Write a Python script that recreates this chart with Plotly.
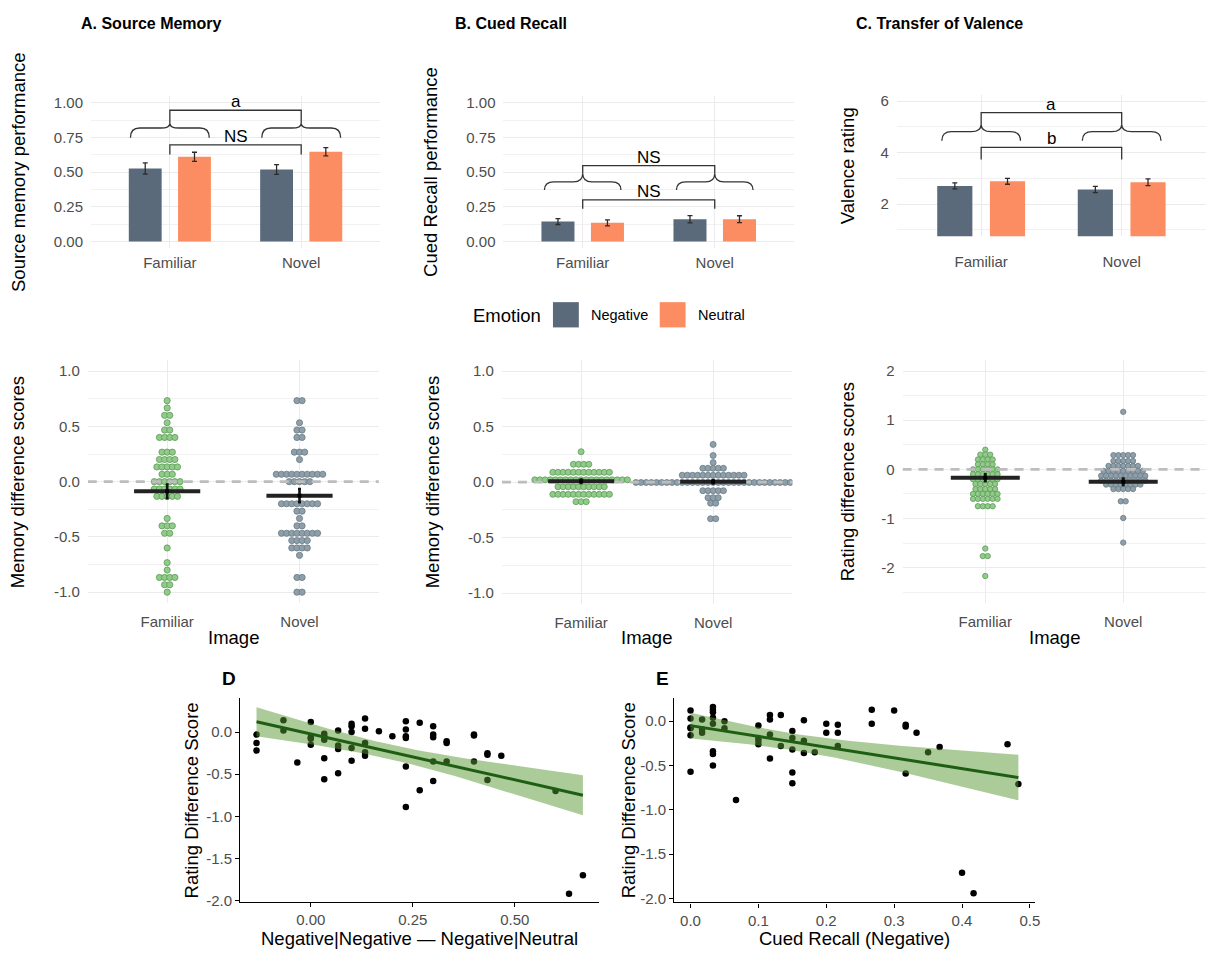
import numpy as np
import plotly.graph_objects as go

W, H = 1212, 958
FONT = "Liberation Sans, Arial, Helvetica, sans-serif"

# ---------------- data ----------------
categories = ["Familiar", "Novel"]
emotions = ["Negative", "Neutral"]

src_neg = [0.526, 0.519]; src_neg_se = [0.040, 0.035]
src_neu = [0.610, 0.647]; src_neu_se = [0.033, 0.030]
cue_neg = [0.143, 0.160]; cue_neg_se = [0.021, 0.026]
cue_neu = [0.134, 0.160]; cue_neu_se = [0.022, 0.025]
val_neg = [2.705, 2.564]; val_neg_se = [0.115, 0.120]
val_neu = [2.885, 2.846]; val_neu_se = [0.115, 0.130]

# dot-plot bins (bin value, number of participants in bin)
memA_fam_bins = [0.733, 0.667, 0.6, 0.533, 0.467, 0.4, 0.267, 0.2, 0.133, 0.067, 0.0, -0.067, -0.133,
                 -0.333, -0.4, -0.467, -0.6, -0.733, -0.8, -0.867, -0.933, -1.0]
memA_fam_counts = [1, 1, 2, 1, 2, 4, 3, 4, 5, 3, 6, 6, 5, 1, 3, 2, 1, 1, 1, 4, 2, 1]
memA_nov_bins = [0.733, 0.533, 0.467, 0.4, 0.267, 0.2, 0.067, 0.0, -0.2, -0.267, -0.333, -0.4,
                 -0.467, -0.533, -0.6, -0.667, -0.867, -1.0]
memA_nov_counts = [2, 1, 2, 2, 3, 1, 10, 5, 8, 2, 1, 2, 8, 4, 4, 1, 2, 2]
memA_mean = [-0.088, -0.127]; memA_se = [0.062, 0.060]

memB_fam_bins = [0.274, 0.161, 0.089, 0.021, -0.042, -0.110, -0.176]
memB_fam_counts = [1, 4, 12, 19, 10, 12, 3]
memB_nov_bins = [0.34, 0.24, 0.176, 0.125, 0.0625, -0.003, -0.077, -0.14, -0.19, -0.33]
memB_nov_counts = [1, 1, 1, 5, 13, 31, 5, 3, 2, 2]
memB_mean = [0.008, 0.003]; memB_se = [0.015, 0.015]

rate_fam_bins = [0.4, 0.3, 0.2, 0.1, 0.0, -0.1, -0.2, -0.3, -0.4, -0.5, -0.6, -0.75, -1.61, -1.765, -2.17]
rate_fam_counts = [1, 3, 4, 4, 6, 6, 6, 5, 5, 6, 6, 4, 1, 2, 1]
rate_nov_bins = [1.17, 0.29, 0.17, 0.07, -0.03, -0.13, -0.23, -0.31, -0.4, -0.65, -0.99, -1.49]
rate_nov_counts = [1, 5, 5, 7, 9, 10, 10, 8, 5, 2, 1, 1]
rate_mean = [-0.170, -0.250]; rate_se = [0.070, 0.065]

# D: Negative|Negative - Negative|Neutral vs rating difference
d_x = [-0.133, -0.133, -0.133, -0.067, -0.067, -0.033, 0, 0, 0, 0,
       0.033, 0.033, 0.033, 0.033, 0.033, 0.067, 0.067, 0.067, 0.067,
       0.1, 0.1, 0.1, 0.1, 0.1, 0.133, 0.133, 0.133, 0.133, 0.133, 0.167, 0.2,
       0.233, 0.233, 0.233, 0.233, 0.233, 0.233, 0.267, 0.267,
       0.3, 0.3, 0.3, 0.3, 0.3, 0.333, 0.333, 0.333, 0.4, 0.4, 0.4,
       0.433, 0.433, 0.433, 0.467, 0.6, 0.633, 0.667]
d_y = [-0.03, -0.13, -0.22, 0.14, 0.02, -0.36, 0.12, -0.06, -0.08, -0.15,
       -0.02, -0.05, -0.09, -0.31, -0.56, 0.02, -0.16, -0.20, -0.49,
       0.10, 0.07, 0.0, -0.19, -0.34, 0.16, 0.04, -0.13, -0.24, -0.28, 0.01, -0.05,
       0.13, 0.03, -0.05, -0.07, -0.41, -0.89, 0.11, -0.69,
       0.07, -0.03, -0.06, -0.35, -0.58, -0.11, -0.13, -0.35, -0.03, -0.04, -0.35,
       -0.25, -0.27, -0.57, -0.28, -0.70, -1.92, -1.70]

# E: Cued recall (negative) vs rating difference
e_x = [0, 0, 0, 0, 0, 0, 0.017, 0.017, 0.017,
       0.033, 0.033, 0.033, 0.033, 0.033, 0.033, 0.033, 0.033, 0.05, 0.05, 0.067,
       0.1, 0.1, 0.1, 0.1, 0.117, 0.117, 0.117, 0.117, 0.133, 0.133,
       0.15, 0.15, 0.15, 0.15, 0.15, 0.167, 0.167, 0.167, 0.183, 0.2, 0.2,
       0.217, 0.217, 0.217, 0.267, 0.267, 0.3, 0.317, 0.317, 0.317, 0.333, 0.35, 0.367,
       0.4, 0.417, 0.467, 0.483]
e_y = [0.12, 0.03, -0.07, -0.08, -0.16, -0.57, 0.02, -0.09, -0.13,
       0.16, 0.13, 0.10, 0.04, -0.03, -0.34, -0.37, -0.50, 0.0, -0.08, -0.89,
       -0.05, -0.19, -0.22, -0.26, 0.07, 0.02, -0.15, -0.42, 0.07, -0.28,
       -0.11, -0.19, -0.32, -0.58, -0.70, 0.01, -0.22, -0.36, -0.35, -0.03, -0.13,
       -0.04, -0.13, -0.28, 0.13, -0.03, 0.12, -0.04, -0.06, -0.59, -0.13, -0.35, -0.29,
       -1.71, -1.94, -0.26, -0.71]

# tick labels
bar_ticks = [0, 0.25, 0.5, 0.75, 1.0]
bar_ticktext = ["0.00", "0.25", "0.50", "0.75", "1.00"]
val_ticks = [2, 4, 6]
diff_ticks = [-1.0, -0.5, 0.0, 0.5, 1.0]
diff_ticktext = ["-1.0", "-0.5", "0.0", "0.5", "1.0"]
rate_ticks = [-2, -1, 0, 1, 2]
rate_ticktext = ["-2", "-1", "0", "1", "2"]
sc_yticks = [0.0, -0.5, -1.0, -1.5, -2.0]
sc_yticktext = ["0.0", "-0.5", "-1.0", "-1.5", "-2.0"]
d_xticks = [0.0, 0.25, 0.5]
d_xticktext = ["0.00", "0.25", "0.50"]
e_xticks = [0.0, 0.1, 0.2, 0.3, 0.4, 0.5]
e_xticktext = ["0.0", "0.1", "0.2", "0.3", "0.4", "0.5"]

# ---------------- style ----------------
NEG_COL = "#5A6A7B"
NEU_COL = "#FC8D62"
GREEN_FILL, GREEN_LINE = "#90CB89", "#5E9A58"
GREY_FILL, GREY_LINE = "#8E9FA9", "#697B85"
GRID = "#EBEBEB"
TICKFONT = dict(family=FONT, size=15, color="#4D4D4D")
CAT_RANGE = [-0.6, 1.6]
cat_pos = list(range(len(categories)))


def dom_x(l, r):
    return [l / W, r / W]


def dom_y(t, b):
    return [1 - b / H, 1 - t / H]


def cat_xaxis(l, r, anchor, ticklen=5):
    return dict(domain=dom_x(l, r), range=CAT_RANGE, tickvals=cat_pos, ticktext=categories,
                showgrid=True, gridcolor=GRID, gridwidth=1.1, zeroline=False, showline=False,
                ticks="outside", ticklen=ticklen, tickcolor="rgba(0,0,0,0)", tickfont=TICKFONT,
                anchor=anchor, fixedrange=True)


def grid_yaxis(t, b, rng, tickvals, ticktext, minor_vals, anchor):
    return dict(domain=dom_y(t, b), range=rng, tickvals=tickvals, ticktext=ticktext,
                showgrid=True, gridcolor=GRID, gridwidth=1.1, zeroline=False, showline=False,
                ticks="outside", ticklen=4, tickcolor="rgba(0,0,0,0)", tickfont=TICKFONT,
                anchor=anchor, fixedrange=True,
                minor=dict(tickvals=minor_vals, showgrid=True, gridcolor="#F1F1F1",
                           gridwidth=0.7, ticks=""))


def line_axis(dom, rng, tickvals, ticktext, anchor):
    return dict(domain=dom, range=rng, tickvals=tickvals, ticktext=ticktext, showgrid=False,
                zeroline=False, showline=True, linecolor="black", linewidth=1.3, ticks="outside",
                ticklen=4, tickcolor="black", tickwidth=1, tickfont=TICKFONT, anchor=anchor,
                fixedrange=True)


def dot_positions(bins, counts, cat_index, dx):
    xs, ys = [], []
    for v, n in zip(bins, counts):
        for i in range(n):
            xs.append(cat_index + (i - (n - 1) / 2) * dx)
            ys.append(v)
    return xs, ys


def fit_band(x, y, n_grid=80):
    x = np.asarray(x, float)
    y = np.asarray(y, float)
    b1, b0 = np.polyfit(x, y, 1)
    xs = np.linspace(x.min(), x.max(), n_grid)
    yhat = b0 + b1 * xs
    resid = y - (b0 + b1 * x)
    n = len(x)
    s = np.sqrt(np.sum(resid ** 2) / (n - 2))
    sxx = np.sum((x - x.mean()) ** 2)
    se = s * np.sqrt(1 / n + (xs - x.mean()) ** 2 / sxx)
    t = 2.004
    return xs, yhat, yhat - t * se, yhat + t * se


def brace_path(xc, half, y_end, y_flat, y_tip, r):
    x0, x1 = xc - half, xc + half
    return (f"M {x0},{y_end} Q {x0},{y_flat} {x0 + r},{y_flat} L {xc - r},{y_flat} "
            f"Q {xc},{y_flat} {xc},{y_tip} Q {xc},{y_flat} {xc + r},{y_flat} "
            f"L {x1 - r},{y_flat} Q {x1},{y_flat} {x1},{y_end}")


def bracket_path(xa, xb, y_low, y_high):
    return f"M {xa},{y_low} L {xa},{y_high} L {xb},{y_high} L {xb},{y_low}"


fig = go.Figure()

# ---------------- top bar panels ----------------
bar_sets = [
    ("x", "y", src_neg, src_neg_se, src_neu, src_neu_se),
    ("x2", "y2", cue_neg, cue_neg_se, cue_neu, cue_neu_se),
    ("x3", "y3", val_neg, val_neg_se, val_neu, val_neu_se),
]
for xa, ya, neg, neg_se, neu, neu_se in bar_sets:
    for name, vals, ses, col in [(emotions[0], neg, neg_se, NEG_COL), (emotions[1], neu, neu_se, NEU_COL)]:
        fig.add_trace(go.Bar(x=cat_pos, y=vals, name=name, marker=dict(color=col, line=dict(width=0)),
                             offsetgroup=name, xaxis=xa, yaxis=ya, showlegend=False,
                             error_y=dict(type="data", array=ses, color="#2B2B2B", thickness=1.3, width=2.5)))

# ---------------- dot plot panels ----------------
dot_sets = [
    ("x4", "y4", memA_fam_bins, memA_fam_counts, memA_nov_bins, memA_nov_counts, memA_mean, memA_se, 0.039, 6.2),
    ("x5", "y5", memB_fam_bins, memB_fam_counts, memB_nov_bins, memB_nov_counts, memB_mean, memB_se, 0.039, 6.0),
    ("x6", "y6", rate_fam_bins, rate_fam_counts, rate_nov_bins, rate_nov_counts, rate_mean, rate_se, 0.0355, 5.4),
]
for xa, ya, fb, fc, nb, nc, mean, se, dx, msize in dot_sets:
    fx, fy = dot_positions(fb, fc, cat_pos[0], dx)
    nx, ny = dot_positions(nb, nc, cat_pos[1], dx)
    fig.add_trace(go.Scatter(x=fx, y=fy, mode="markers", xaxis=xa, yaxis=ya, showlegend=False,
                             marker=dict(size=msize, color=GREEN_FILL, line=dict(color=GREEN_LINE, width=0.8))))
    fig.add_trace(go.Scatter(x=nx, y=ny, mode="markers", xaxis=xa, yaxis=ya, showlegend=False,
                             marker=dict(size=msize, color=GREY_FILL, line=dict(color=GREY_LINE, width=0.8))))
    fig.add_trace(go.Scatter(x=CAT_RANGE, y=[0, 0], mode="lines", xaxis=xa, yaxis=ya, showlegend=False,
                             line=dict(color="#BDBDBD", width=2.6, dash="9px,7px")))
    fig.add_trace(go.Scatter(x=cat_pos, y=mean, mode="markers", xaxis=xa, yaxis=ya, showlegend=False,
                             marker=dict(size=4, color="black", symbol="square"),
                             error_x=dict(type="constant", value=0.25, color="#222222", thickness=4, width=0),
                             error_y=dict(type="data", array=se, color="#111111", thickness=2.6, width=1.5)))

# ---------------- scatter panels ----------------
for xa, ya, xs_, ys_ in [("x7", "y7", d_x, d_y), ("x8", "y8", e_x, e_y)]:
    fig.add_trace(go.Scatter(x=xs_, y=ys_, mode="markers", xaxis=xa, yaxis=ya, showlegend=False,
                             marker=dict(size=6.5, color="black")))
    gx, gy, lo, hi = fit_band(xs_, ys_)
    fig.add_trace(go.Scatter(x=list(gx) + list(gx[::-1]), y=list(hi) + list(lo[::-1]), mode="lines",
                             fill="toself", fillcolor="rgba(88,152,52,0.5)", line=dict(width=0),
                             xaxis=xa, yaxis=ya, showlegend=False, hoverinfo="skip"))
    fig.add_trace(go.Scatter(x=gx, y=gy, mode="lines", xaxis=xa, yaxis=ya, showlegend=False,
                             line=dict(color="#1D5E12", width=3)))

# ---------------- axes ----------------
layout = dict(
    xaxis=cat_xaxis(91.5, 381.9, "y", ticklen=1),
    yaxis=grid_yaxis(94.7, 248.7, [-0.05, 1.05], bar_ticks, bar_ticktext, [0.125, 0.375, 0.625, 0.875], "x"),
    xaxis2=cat_xaxis(506.0, 797.9, "y2", ticklen=1),
    yaxis2=grid_yaxis(94.7, 248.7, [-0.05, 1.05], bar_ticks, bar_ticktext, [0.125, 0.375, 0.625, 0.875], "x2"),
    xaxis3=cat_xaxis(901.3, 1212.0, "y3", ticklen=12),
    yaxis3=grid_yaxis(93.5, 236.5, [0.75, 6.25], val_ticks, [str(v) for v in val_ticks], [1, 3, 5], "x3"),
    xaxis4=cat_xaxis(88.2, 380.8, "y4"),
    yaxis4=grid_yaxis(361.5, 606.9, [-1.1, 1.1], diff_ticks, diff_ticktext, [-0.75, -0.25, 0.25, 0.75], "x4"),
    xaxis5=cat_xaxis(504.4, 796.3, "y5"),
    yaxis5=grid_yaxis(361.5, 607.9, [-1.1, 1.1], diff_ticks, diff_ticktext, [-0.75, -0.25, 0.25, 0.75], "x5"),
    xaxis6=cat_xaxis(907.0, 1212.0, "y6"),
    yaxis6=grid_yaxis(361.4, 607.0, [-2.725, 2.225], rate_ticks, rate_ticktext, [-2.5, -1.5, -0.5, 0.5, 1.5], "x6"),
    xaxis7=line_axis(dom_x(241.4, 602.2), [-0.173, 0.707], d_xticks, d_xticktext, "y7"),
    yaxis7=line_axis(dom_y(703.0, 908.7), [-2.02, 0.40], sc_yticks, sc_yticktext, "x7"),
    xaxis8=line_axis(dom_x(677.6, 1039.8), [-0.024, 0.507], e_xticks, e_xticktext, "y8"),
    yaxis8=line_axis(dom_y(702.3, 909.0), [-2.045, 0.265], sc_yticks, sc_yticktext, "x8"),
)

# ---------------- annotation shapes (braces and brackets) ----------------
shapes = []
LC = dict(color="#333333", width=1.3)
brace_specs = [
    ("x", "y", 0.30, 0.748, 0.818, 0.853, 0.070, 0.626, 0.696, 0.946),
    ("x2", "y2", 0.29, 0.370, 0.430, 0.490, 0.070, 0.235, 0.300, 0.547),
    ("x3", "y3", 0.28, 4.46, 4.81, 5.10, 0.070, 3.73, 4.20, 5.55),
]
for xa, ya, half, ye, yf, yt, r, lo_leg, lo_bar, hi_bar in brace_specs:
    for c in cat_pos:
        shapes.append(dict(type="path", path=brace_path(c, half, ye, yf, yt, r), xref=xa, yref=ya,
                           line=LC, layer="above"))
    shapes.append(dict(type="path", path=bracket_path(cat_pos[0], cat_pos[1], yt, hi_bar), xref=xa, yref=ya,
                       line=LC, layer="above"))
    shapes.append(dict(type="path", path=bracket_path(cat_pos[0], cat_pos[1], lo_leg, lo_bar), xref=xa, yref=ya,
                       line=LC, layer="above"))

# legend keys
for (l, col) in [(555.7, NEG_COL), (663.0, NEU_COL)]:
    shapes.append(dict(type="rect", xref="paper", yref="paper", x0=l / W, x1=(l + 26) / W,
                       y0=1 - 328.5 / H, y1=1 - 303 / H, fillcolor=col, line=dict(width=0)))

annotations = []


def ann(text, x, y, size, color="black", angle=0, xanchor="center", bold=False):
    if bold:
        text = f"<b>{text}</b>"
    annotations.append(dict(text=text, x=x / W, y=1 - y / H, xref="paper", yref="paper", showarrow=False,
                            textangle=angle, xanchor=xanchor, yanchor="middle",
                            font=dict(family=FONT, size=size, color=color)))


# panel titles
ann("A. Source Memory", 79, 22, 16, bold=True, xanchor="left")
ann("B. Cued Recall", 455, 22, 16, bold=True, xanchor="left")
ann("C. Transfer of Valence", 858, 22, 16, bold=True, xanchor="left")
ann("D", 230, 683, 19, bold=True)
ann("E", 666, 683, 19, bold=True)

# y titles
ann("Source memory performance", 18, 171.7, 18.5, angle=-90)
ann("Cued Recall performance", 432, 171.7, 18.5, angle=-90)
ann("Valence rating", 852, 165, 18.5, angle=-90)
ann("Memory difference scores", 18, 484, 18.5, angle=-90)
ann("Memory difference scores", 435, 484, 18.5, angle=-90)
ann("Rating difference scores", 852, 484, 18.5, angle=-90)
ann("Rating Difference Score", 192, 806, 18.5, angle=-90)
ann("Rating Difference Score", 632, 806, 18.5, angle=-90)

# x titles
ann("Image", 234.5, 642, 18.5)
ann("Image", 650, 642, 18.5)
ann("Image", 1059.5, 642, 18.5)
ann("Negative|Negative — Negative|Neutral", 421.8, 945, 18.5)
ann("Cued Recall (Negative)", 858.7, 945, 18.5)

# legend text
ann("Emotion", 510, 316, 18.5)
ann(emotions[0], 592, 316, 14.5, xanchor="left")
ann(emotions[1], 699, 316, 14.5, xanchor="left")

# bracket labels
label_specs = [("x", "y", "a", 0.946, "NS", 0.696),
               ("x2", "y2", "NS", 0.547, "NS", 0.300),
               ("x3", "y3", "a", 5.55, "b", 4.20)]
for xa, ya, t_hi, y_hi, t_lo, y_lo in label_specs:
    for t, yv in [(t_hi, y_hi), (t_lo, y_lo)]:
        annotations.append(dict(text=t, x=(cat_pos[0] + cat_pos[1]) / 2, y=yv, xref=xa, yref=ya,
                                showarrow=False, xanchor="center", yanchor="bottom", yshift=-3,
                                font=dict(family=FONT, size=17, color="black")))

fig.update_layout(
    **layout,
    shapes=shapes,
    annotations=annotations,
    width=W, height=H,
    margin=dict(l=0, r=0, t=0, b=0),
    paper_bgcolor="white", plot_bgcolor="white",
    barmode="group", bargap=0.25, bargroupgap=0.333,
    showlegend=False,
    font=dict(family=FONT),
)

fig.write_html("out.html", config={"displayModeBar": False},
               post_script="document.body.style.margin='0';")
